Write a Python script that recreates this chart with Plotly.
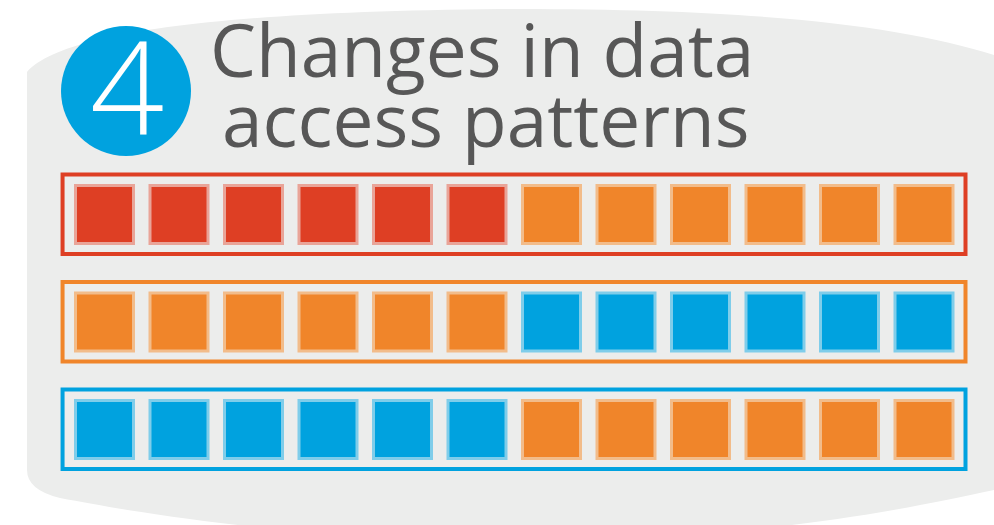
import plotly.graph_objects as go

# ---- data ----
columns = list(range(12))
row_index = [0, 1, 2]
row_cells = [
    ["red", "red", "red", "red", "red", "red",
     "orange", "orange", "orange", "orange", "orange", "orange"],
    ["orange", "orange", "orange", "orange", "orange", "orange",
     "blue", "blue", "blue", "blue", "blue", "blue"],
    ["blue", "blue", "blue", "blue", "blue", "blue",
     "orange", "orange", "orange", "orange", "orange", "orange"],
]
row_frames = ["red", "orange", "blue"]
title_lines = ["Changes in data", "access patterns"]
badge_text = "4"

# ---- styles ----
COL = {"red": "#DE3F24", "orange": "#F0852A", "blue": "#00A2DF"}
TINT = {"red": "#E9A498", "orange": "#F2BC8A", "blue": "#7FCDEA"}
BG = "#ECEDEC"
TEXT = "#575757"

W, H = 994, 525
PX0, PITCH_X = 104.5, 74.5      # pixel centre of column 0, column pitch
PY0, PITCH_Y = 214.5, 107.5     # pixel centre of row 0, row pitch

fig = go.Figure()

# cells
for r, cells in zip(row_index, row_cells):
    fig.add_trace(go.Scatter(
        x=columns, y=[r] * len(columns), mode="markers",
        marker=dict(symbol="square", size=58,
                    color=[COL[c] for c in cells],
                    line=dict(color=[TINT[c] for c in cells], width=3)),
        hoverinfo="skip", showlegend=False, xaxis="x", yaxis="y"))

# invisible trace for pixel overlay axes
fig.add_trace(go.Scatter(x=[0], y=[0], mode="markers", marker=dict(opacity=0),
                         hoverinfo="skip", showlegend=False, xaxis="x2", yaxis="y2"))

shapes = []
# background panel (pixel coords)
shapes.append(dict(
    type="path", xref="x2", yref="y2", layer="below",
    path=("M 27,72 C 60,35 200,12 500,9 C 750,8 900,25 994,55 "
          "L 994,490 C 900,510 760,540 520,540 C 300,540 150,515 60,498 "
          "Q 27,490 27,470 Z"),
    fillcolor=BG, line=dict(width=0)))
# badge circle
shapes.append(dict(type="circle", xref="x2", yref="y2", layer="below",
                   x0=126 - 65, x1=126 + 65, y0=91 - 65, y1=91 + 65,
                   fillcolor="#00A2DF", line=dict(width=0)))
# row frames (data coords)
for r, fc in zip(row_index, row_frames):
    shapes.append(dict(type="rect", xref="x", yref="y", layer="below",
                       x0=-0.563, x1=11.557, y0=r - 0.371, y1=r + 0.367,
                       fillcolor="rgba(0,0,0,0)",
                       line=dict(color=COL[fc], width=4)))

BIG = "<span style='font-size:73px'>{}</span>"
INDENT = "<span style='font-size:46px'>\u00a0</span>"
title_html = BIG.format(title_lines[0]) + "<br>" + INDENT + BIG.format(title_lines[1])

annotations = [
    dict(text=badge_text, xref="x2", yref="y2", x=127, y=84, showarrow=False,
         xanchor="center", yanchor="middle",
         font=dict(family="Open Sans", size=130, color="white", weight=300)),
    dict(text=title_html, xref="x2", yref="y2", x=208, y=83, showarrow=False,
         xanchor="left", yanchor="middle", align="left",
         font=dict(family="Open Sans", size=54, color=TEXT)),
]

fig.update_layout(
    width=W, height=H, margin=dict(l=0, r=0, t=0, b=0),
    paper_bgcolor="white", plot_bgcolor="rgba(0,0,0,0)",
    xaxis=dict(range=[(0 - PX0) / PITCH_X, (W - PX0) / PITCH_X], visible=False, fixedrange=True),
    yaxis=dict(range=[(H - PY0) / PITCH_Y, (0 - PY0) / PITCH_Y], visible=False, fixedrange=True),
    xaxis2=dict(range=[0, W], overlaying="x", visible=False, fixedrange=True),
    yaxis2=dict(range=[H, 0], overlaying="y", visible=False, fixedrange=True),
    shapes=shapes, annotations=annotations, showlegend=False,
)

fig.write_html("out.html", config={"displayModeBar": False},
               post_script="document.body.style.margin='0';document.body.style.overflow='hidden';")
